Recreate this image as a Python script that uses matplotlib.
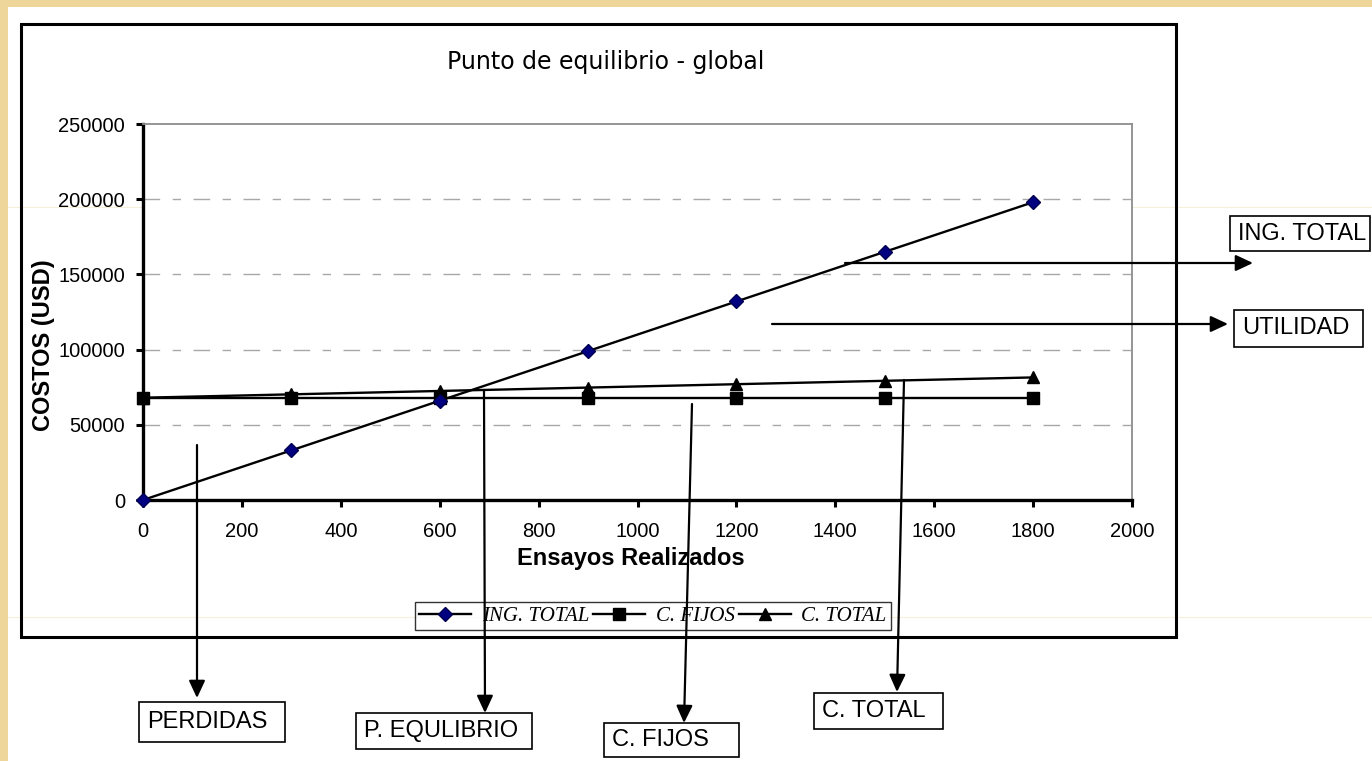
import matplotlib
matplotlib.use("Agg")
import matplotlib.pyplot as plt
from matplotlib.patches import Rectangle, FancyArrowPatch
from matplotlib.lines import Line2D

# Data
ensayos = [0, 300, 600, 900, 1200, 1500, 1800]
ing_total = [0, 33000, 66000, 99000, 132000, 165000, 198000]
c_fijos = [68000, 68000, 68000, 68000, 68000, 68000, 68000]
c_total = [68000, 70250, 72500, 74750, 77000, 79250, 81500]
series_labels = ["ING. TOTAL", "C. FIJOS", "C. TOTAL"]
x_ticks = [0, 200, 400, 600, 800, 1000, 1200, 1400, 1600, 1800, 2000]
y_ticks = [0, 50000, 100000, 150000, 200000, 250000]

W, H = 1372, 761
plt.rcParams["lines.scale_dashes"] = False
fig = plt.figure(figsize=(W / 100, H / 100), dpi=100)
fig.patch.set_facecolor("#eed69a")


def fx(x):
    return x / W


def fy(y):
    return 1 - y / H


# white page over the textured border
fig.add_artist(Rectangle((fx(8), 0), 1 - fx(8), fy(7), transform=fig.transFigure,
                         facecolor="white", edgecolor="none", zorder=-5))
for yy in (207, 617):
    fig.add_artist(Line2D([fx(8), 1], [fy(yy), fy(yy)], transform=fig.transFigure,
                          color="#f6f0da", lw=0.8, zorder=-4))

# chart frame
fig.add_artist(Rectangle((fx(21), fy(637)), fx(1176) - fx(21), fy(24) - fy(637),
                         transform=fig.transFigure, facecolor="none",
                         edgecolor="black", lw=2.2, zorder=0.5))

ax = fig.add_axes([fx(143), fy(500), fx(1132) - fx(143), fy(124) - fy(500)])
ax.set_facecolor("white")
ax.set_xlim(0, 2000)
ax.set_ylim(0, 250000)
ax.set_xticks(x_ticks)
ax.set_yticks(y_ticks)
ax.set_xticklabels([str(v) for v in x_ticks], fontsize=14.5, family="Liberation Sans")
ax.set_yticklabels([str(v) for v in y_ticks], fontsize=14.5, family="Liberation Sans")
ax.tick_params(axis="both", direction="out", length=5, width=2.2, pad=8)
ax.tick_params(axis="x", pad=11)

for s in ("left", "bottom"):
    ax.spines[s].set_linewidth(2.4)
    ax.spines[s].set_color("black")
for s in ("top", "right"):
    ax.spines[s].set_linewidth(1.3)
    ax.spines[s].set_color("#8c8c8c")

for v in y_ticks[1:-1]:
    ax.axhline(v, color="#a8a8a8", lw=1.0, dashes=(12, 9, 6, 9), zorder=1)

ax.plot(ensayos, c_fijos, color="black", lw=1.7, marker="s", markersize=8.5,
        markerfacecolor="black", markeredgecolor="black", zorder=3, clip_on=False)
ax.plot(ensayos, c_total, color="black", lw=1.7, marker="^", markersize=8.5,
        markerfacecolor="black", markeredgecolor="black", zorder=3, clip_on=False)
ax.plot(ensayos, ing_total, color="black", lw=1.7, marker="D", markersize=7,
        markerfacecolor="#000080", markeredgecolor="#000050", zorder=4, clip_on=False)

fig.text(fx(606), fy(62), "Punto de equilibrio - global", ha="center", va="center",
         fontsize=17, family="DejaVu Sans")
fig.text(fx(631), fy(558), "Ensayos Realizados", ha="center", va="center",
         fontsize=17, fontweight="bold", family="Liberation Sans")
fig.text(fx(44), fy(345), "COSTOS (USD)", ha="center", va="center", rotation=90,
         fontsize=17, fontweight="bold", family="Liberation Sans")

handles = [
    Line2D([], [], color="black", lw=1.7, marker="D", markersize=7,
           markerfacecolor="#000080", markeredgecolor="#000050"),
    Line2D([], [], color="black", lw=1.7, marker="s", markersize=8.5,
           markerfacecolor="black"),
    Line2D([], [], color="black", lw=1.7, marker="^", markersize=8.5,
           markerfacecolor="black"),
]
leg = fig.legend(handles, series_labels, loc="center",
                 bbox_to_anchor=(fx(653), fy(616)), ncol=3, frameon=True,
                 fancybox=False, edgecolor="black", handlelength=2.5,
                 handletextpad=0.5, columnspacing=0.2, borderpad=0.2,
                 prop={"family": "Liberation Serif", "style": "italic", "size": 15})
leg.get_frame().set_linewidth(1.0)


def arrow(x0, y0, x1, y1):
    fig.add_artist(FancyArrowPatch((fx(x0), fy(y0)), (fx(x1), fy(y1)),
                                   transform=fig.transFigure,
                                   arrowstyle="-|>,head_length=0.75,head_width=0.35",
                                   mutation_scale=14, color="black", lw=1.6,
                                   shrinkA=0, shrinkB=0, zorder=10))


def box(x0, y0, x1, y1, label):
    fig.add_artist(Rectangle((fx(x0), fy(y1)), fx(x1) - fx(x0), fy(y0) - fy(y1),
                             transform=fig.transFigure, facecolor="white",
                             edgecolor="black", lw=1.2, zorder=10))
    fig.text(fx(x0 + 8), fy((y0 + y1) / 2), label, ha="left", va="center",
             fontsize=17, family="Liberation Sans", zorder=11)


arrow(197, 445, 197, 698)
arrow(484, 390, 485, 713)
arrow(692, 404, 684, 723)
arrow(904, 380, 897, 692)
arrow(845, 263, 1253, 263)
arrow(772, 324, 1228, 324)

box(139, 702, 285, 742, "PERDIDAS")
box(356, 713, 532, 749, "P. EQULIBRIO")
box(604, 723, 739, 757, "C. FIJOS")
box(814, 693, 943, 729, "C. TOTAL")
box(1230, 216, 1370, 251, "ING. TOTAL")
box(1234, 310, 1363, 347, "UTILIDAD")

fig.savefig("out.png", dpi=100, facecolor=fig.get_facecolor())
